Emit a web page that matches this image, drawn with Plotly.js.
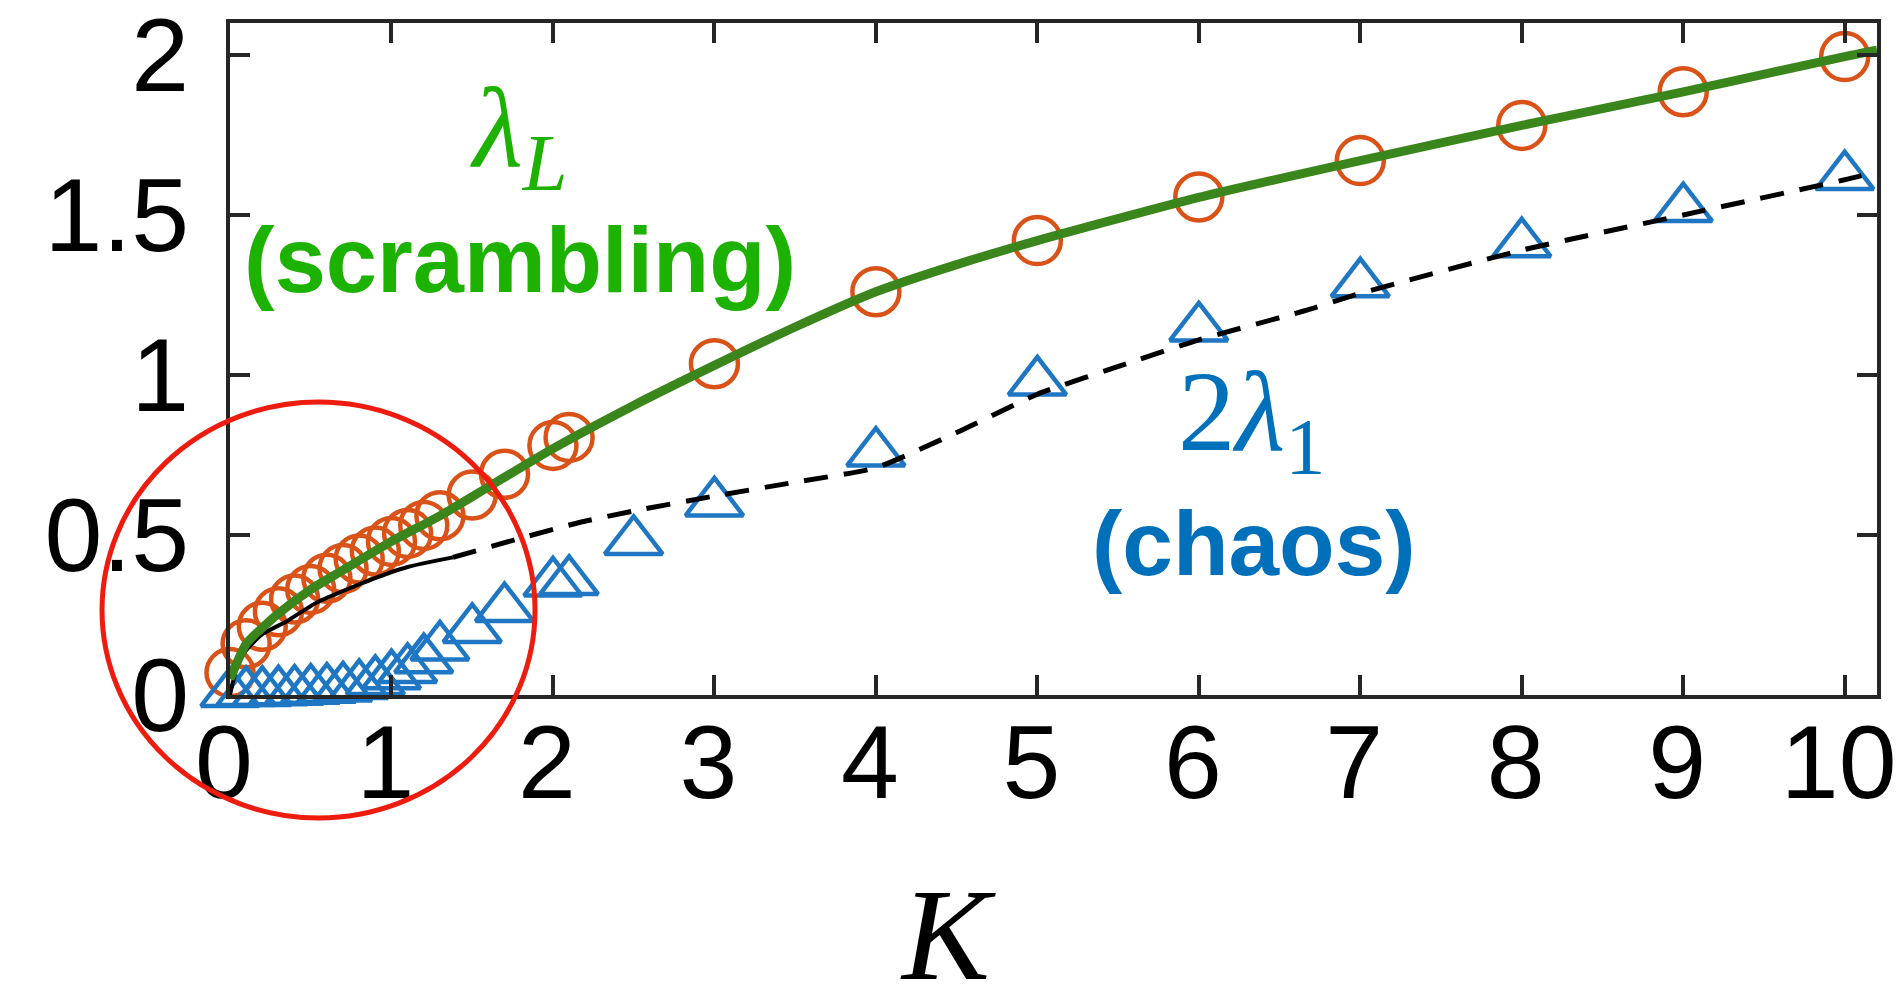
<!DOCTYPE html>
<html>
<head>
<meta charset="utf-8">
<script src="https://cdn.plot.ly/plotly-3.0.1.min.js"></script>
<style>html,body{margin:0;padding:0;background:#fff;}#chart{width:1902px;height:994px;}</style>
</head>
<body>
<div id="chart"></div>
<script>
// OTOC scrambling rate (circles) and its theory curve (green)
const kCircles = [0, 0.1, 0.2, 0.3, 0.4, 0.5, 0.6, 0.7, 0.8, 0.9, 1.0, 1.1, 1.2, 1.3, 1.5, 1.7, 2.0, 2.1, 3, 4, 5, 6, 7, 8, 9, 10];
const lambdaL = [0.07, 0.16, 0.215, 0.26, 0.3, 0.33, 0.365, 0.395, 0.425, 0.45, 0.48, 0.505, 0.53, 0.56, 0.625, 0.69, 0.78, 0.805, 1.035, 1.26, 1.42, 1.556, 1.67, 1.78, 1.885, 1.995];

const kGreen = [0, 0.1, 0.2, 0.3, 0.5, 0.7, 1.0, 1.3, 1.6, 2.0, 2.5, 3, 3.5, 4, 4.5, 5, 6, 7, 8, 9, 10, 10.2];
const greenLine = [0.05, 0.16, 0.21, 0.255, 0.33, 0.39, 0.48, 0.56, 0.65, 0.77, 0.905, 1.03, 1.15, 1.26, 1.345, 1.42, 1.555, 1.67, 1.78, 1.885, 1.995, 2.015];

// Lyapunov exponent 2*lambda_1 (triangles) and its theory curve (black)
const kTriangles = [0, 0.1, 0.2, 0.3, 0.4, 0.5, 0.6, 0.7, 0.8, 0.9, 1.0, 1.1, 1.2, 1.3, 1.5, 1.7, 2.0, 2.1, 2.5, 3, 4, 5, 6, 7, 8, 9, 10];
const twoLambda1 = [0.005, 0.008, 0.008, 0.01, 0.012, 0.015, 0.018, 0.022, 0.03, 0.042, 0.06, 0.08, 0.11, 0.15, 0.205, 0.27, 0.35, 0.355, 0.48, 0.6, 0.756, 0.978, 1.147, 1.285, 1.41, 1.52, 1.62];

const kBlackSolid = [0, 0.05, 0.1, 0.2, 0.35, 0.54, 0.7, 0.87, 1.1, 1.38];
const blackSolid = [0, 0.1, 0.14, 0.19, 0.23, 0.29, 0.325, 0.36, 0.4, 0.43];
const kBlackDash = [1.38, 1.8, 2.17, 2.5, 2.98, 3.5, 4.0, 4.5, 5.0, 5.58, 6.0, 6.65, 7, 8, 9, 10, 10.2];
const blackDash = [0.43, 0.49, 0.54, 0.575, 0.62, 0.665, 0.71, 0.82, 0.94, 1.04, 1.11, 1.2, 1.255, 1.39, 1.5, 1.61, 1.635];

const xTicks = [0, 1, 2, 3, 4, 5, 6, 7, 8, 9, 10];
const yTicks = [0, 0.5, 1, 1.5, 2];
const yTickText = ["0", "0.5", "1", "1.5", "2"];

const axisColor = "#262626";
const traces = [
  {x: kCircles, y: lambdaL, mode: "markers", type: "scatter", cliponaxis: false,
   marker: {symbol: "circle-open", size: 47, color: "#D95319", line: {width: 4.5, color: "#D95319"}}},
  {x: kTriangles, y: twoLambda1, mode: "markers", type: "scatter", cliponaxis: false,
   marker: {symbol: "triangle-up-open", size: 50, color: "#1F77C4", line: {width: 4.5, color: "#1F77C4"}}},
  {x: kBlackSolid, y: blackSolid, mode: "lines", type: "scatter",
   line: {color: "#000", width: 4, shape: "spline", smoothing: 0.6}},
  {x: kBlackDash, y: blackDash, mode: "lines", type: "scatter",
   line: {color: "#000", width: 5, dash: "24px,16px", shape: "spline", smoothing: 0.5}},
  {x: kGreen, y: greenLine, mode: "lines", type: "scatter",
   line: {color: "#3A861C", width: 9, shape: "spline", smoothing: 0.6}}
];

const layout = {
  width: 1902, height: 994,
  margin: {l: 230, r: 25, t: 23, b: 299, pad: 0},
  paper_bgcolor: "#fff", plot_bgcolor: "#fff",
  showlegend: false,
  font: {family: "Liberation Sans, Arial, sans-serif", color: "#000"},
  xaxis: {
    range: [0, 10.2], tickvals: xTicks, ticks: "inside", ticklen: 20, tickwidth: 4, tickcolor: axisColor,
    showline: true, linewidth: 4, linecolor: axisColor, mirror: "ticks", showgrid: false, zeroline: false,
    tickfont: {size: 104, family: "Liberation Sans, Arial, sans-serif", color: "#000"},
    ticklabelstandoff: -26, ticklabelshift: -6, ticklabeloverflow: "allow"
  },
  yaxis: {
    range: [0, 2.1], tickvals: yTicks, ticktext: yTickText, ticks: "inside", ticklen: 20, tickwidth: 4, tickcolor: axisColor,
    showline: true, linewidth: 4, linecolor: axisColor, mirror: "ticks", showgrid: false, zeroline: false,
    tickfont: {size: 104, family: "Liberation Sans, Arial, sans-serif", color: "#000"},
    ticklabelstandoff: 16, ticklabeloverflow: "allow"
  },
  annotations: [
    {x: 1.79, y: 1.75, xref: "x", yref: "y", text: "<i>λ<sub>L</sub></i>", showarrow: false,
     xanchor: "center", yanchor: "middle", font: {family: "Liberation Serif, Times New Roman, serif", size: 115, color: "#1DB100"}},
    {x: 1.795, y: 1.36, xref: "x", yref: "y", text: "<b>(scrambling)</b>", showarrow: false,
     xanchor: "center", yanchor: "middle", font: {family: "Liberation Sans, Arial, sans-serif", size: 92, color: "#1DB100"}},
    {x: 6.33, y: 0.86, xref: "x", yref: "y", text: "2<i>λ</i><sub>1</sub>", showarrow: false,
     xanchor: "center", yanchor: "middle", font: {family: "Liberation Serif, Times New Roman, serif", size: 115, color: "#0070BA"}},
    {x: 6.34, y: 0.475, xref: "x", yref: "y", text: "<b>(chaos)</b>", showarrow: false,
     xanchor: "center", yanchor: "middle", font: {family: "Liberation Sans, Arial, sans-serif", size: 91, color: "#0070BA"}},
    {x: 0.436, y: -0.357, xref: "paper", yref: "paper", text: "<i>K</i>", showarrow: false,
     xanchor: "center", yanchor: "middle", font: {family: "Liberation Serif, Times New Roman, serif", size: 132, color: "#000"}}
  ],
  shapes: [
    {type: "circle", xref: "paper", yref: "paper", x0: -0.0777, x1: 0.1852, y0: -0.183, y1: 0.436,
     line: {color: "#EE1C0E", width: 5}, layer: "above"}
  ]
};

Plotly.newPlot("chart", traces, layout, {staticPlot: true, displayModeBar: false});
</script>
</body>
</html>
